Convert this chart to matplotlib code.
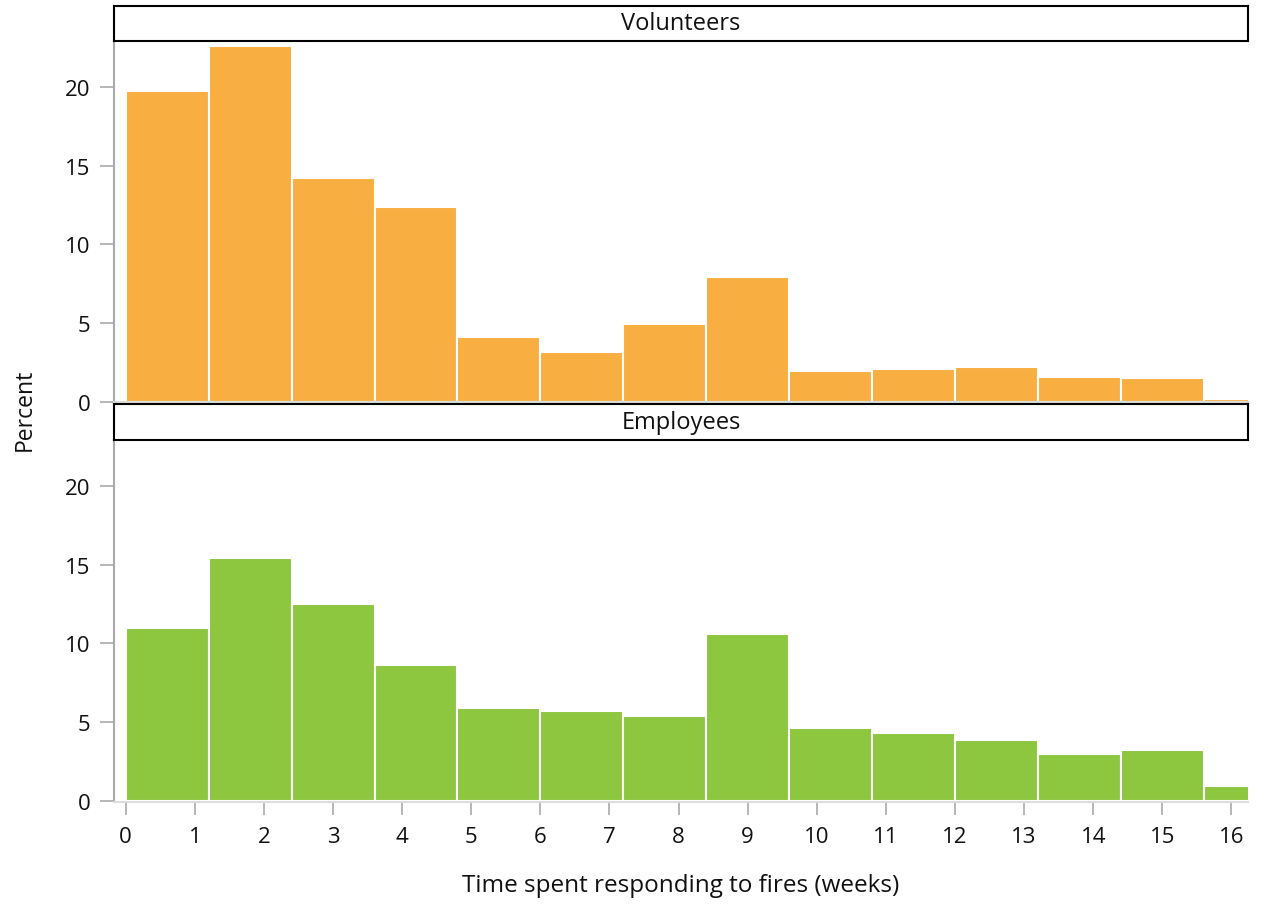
import numpy as np
import matplotlib
matplotlib.use("Agg")
import matplotlib.pyplot as plt

plt.rcParams['font.family'] = ['Open Sans', 'DejaVu Sans']

bin_width = 1.2
volunteers = [19.7, 22.6, 14.2, 12.4, 4.1, 3.2, 4.95, 7.9, 1.97, 2.1, 2.2, 1.6, 1.5, 0.2]
employees = [10.95, 15.4, 12.5, 8.6, 5.9, 5.7, 5.4, 10.6, 4.65, 4.3, 3.9, 3.0, 3.25, 0.95]
panels = ["Volunteers", "Employees"]
colors = ["#F8AE40", "#8DC63F"]
x_ticks = list(range(0, 17))
y_ticks = [0, 5, 10, 15, 20]

W, H = 1280, 912
fig = plt.figure(figsize=(W / 100, H / 100), dpi=100)

def box(l, t, r, b):
    return [l / W, 1 - b / H, (r - l) / W, (b - t) / H]

L, R = 114, 1248
axes_px = [(42, 403), (441, 802)]
strip_px = [(7, 42), (405, 441)]
lefts = np.arange(len(volunteers)) * bin_width
spine_col = "#AAAAAA"
txt_col = "#111111"

for i, (vals, name, col) in enumerate(zip([volunteers, employees], panels, colors)):
    t, b = axes_px[i]
    ax = fig.add_axes(box(L, t, R, b))
    ax.bar(lefts, vals, width=bin_width, align='edge', color=col,
           edgecolor='white', linewidth=1.5)
    ax.set_xlim(-0.17, 16.24)
    ax.set_ylim(0, 22.9)
    for s in ['top', 'right']:
        ax.spines[s].set_visible(False)
    ax.spines['left'].set_color(spine_col)
    ax.spines['left'].set_linewidth(1.5)
    ax.spines['bottom'].set_color("#DDDDDD")
    ax.spines['bottom'].set_linewidth(1.5)
    ax.set_yticks(y_ticks)
    ax.tick_params(axis='y', length=10, width=1.2, color=spine_col, labelsize=16,
                   pad=7, labelcolor=txt_col)
    if i == 1:
        ax.set_xticks(x_ticks)
        ax.tick_params(axis='x', length=9, width=1.2, color=spine_col, labelsize=16,
                       pad=8, labelcolor=txt_col, direction='out')
        ax.spines['bottom'].set_position(('outward', 1))
    else:
        ax.set_xticks([])
    st, sb = strip_px[i]
    sax = fig.add_axes(box(L, st, R, sb))
    sax.set_xticks([]); sax.set_yticks([])
    for s in sax.spines.values():
        s.set_color('black'); s.set_linewidth(1.5)
    sax.text(0.5, 0.5, name, ha='center', va='center', fontsize=17,
             transform=sax.transAxes, color=txt_col)

fig.text(25 / W, 1 - 410 / H, "Percent", rotation=90, ha='center', va='center',
         fontsize=16.5, color=txt_col)
fig.text(681 / W, 1 - 886 / H, "Time spent responding to fires (weeks)", ha='center',
         va='center', fontsize=17.5, color=txt_col)

fig.savefig("out.png", dpi=100)
